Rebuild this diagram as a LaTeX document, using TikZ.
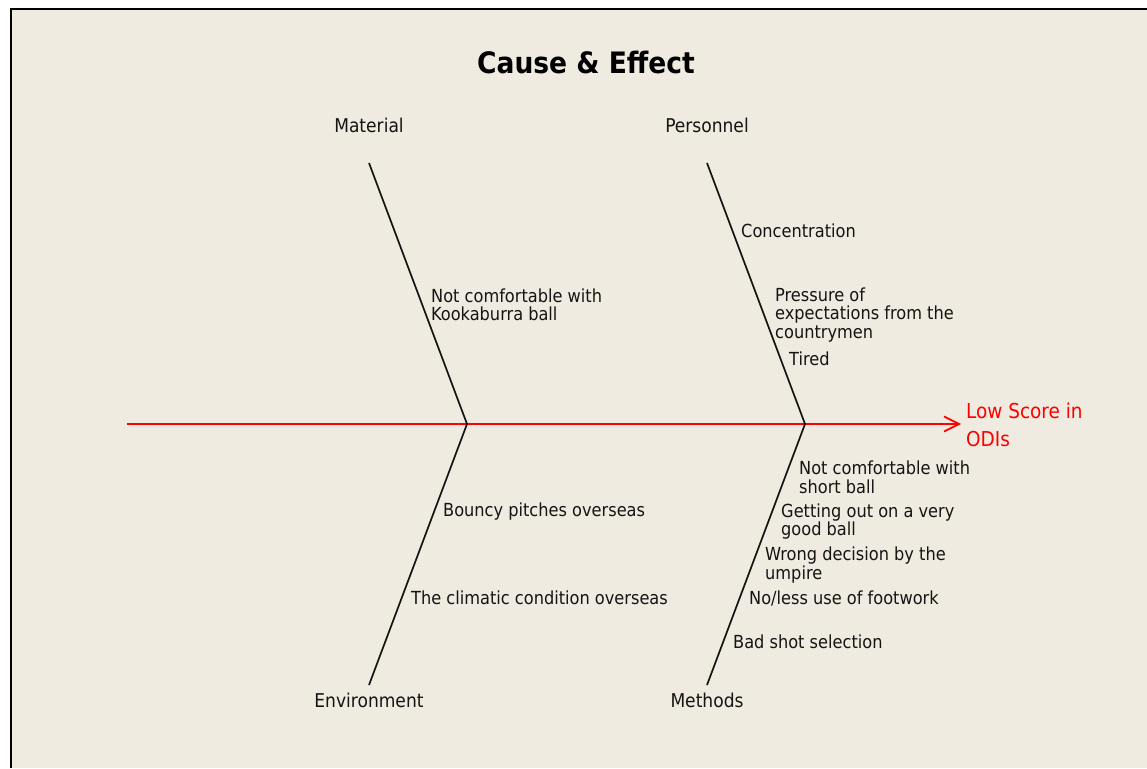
\documentclass[tikz,border=0pt]{standalone}
\usepackage{fontspec}
\setmainfont{DejaVu Sans Condensed}
\usepackage{tikz}
\usetikzlibrary{arrows.meta}
\definecolor{paper}{RGB}{239,235,225}
\definecolor{ink}{RGB}{20,20,20}

\begin{document}
\begin{tikzpicture}[x=1pt,y=-1pt,
	bone/.style={ink,line width=1.7pt},
	cause/.style={anchor=west,align=left,inner sep=0pt,text=ink,font=\fontsize{18}{18.5}\selectfont},
	group/.style={anchor=center,inner sep=0pt,text=ink,font=\fontsize{19}{22}\selectfont}]

	% Draw background and frame
	\useasboundingbox (0,0) rectangle (1147,768);
	\fill[white] (0,0) rectangle (1147,768);
	\fill[paper] (11,9) rectangle (1147,768);
	\draw[line width=2pt] (11,768) -- (11,9) -- (1147,9);

	% Draw title
	\node[inner sep=0pt,font=\fontsize{29.5}{32}\selectfont\bfseries] (title) at (586,63) {Cause \& Effect};

	% Draw spine
	\coordinate (tail) at (127,424);
	\coordinate (jl) at (467,424);
	\coordinate (jr) at (805,424);
	\coordinate (tip) at (961,424);
	\draw[red,line width=1.7pt,-{Straight Barb[length=15pt,width=15pt,line width=1.7pt]}] (tail) -- (tip);
	\node[anchor=west,align=left,inner sep=0pt,text=red,font=\fontsize{20.5}{28}\selectfont] (effect) at (966,425) {Low Score in\\ODIs};

	% Draw bones
	\coordinate (mat) at (369,163);
	\coordinate (per) at (707,163);
	\coordinate (env) at (369,685);
	\coordinate (met) at (707,685);
	\draw[bone] (mat) -- (jl) -- (env);
	\draw[bone] (per) -- (jr) -- (met);
	\node[group] (material) at (369,125) {Material};
	\node[group] (personnel) at (707,125) {Personnel};
	\node[group] (environment) at (369,700) {Environment};
	\node[group] (methods) at (707,700) {Methods};

	% Draw causes
	\node[cause] (c1) at (431,305) {Not comfortable with\\Kookaburra ball};
	\node[cause] (c2) at (741,231) {Concentration};
	\node[cause] (c3) at (775,315) {Pressure of\\expectations from the\\countrymen};
	\node[cause] (c4) at (789,359) {Tired};
	\node[cause] (c5) at (443,512) {Bouncy pitches overseas};
	\node[cause] (c6) at (411,598) {The climatic condition overseas};
	\node[cause] (c7) at (799,477.5) {Not comfortable with\\short ball};
	\node[cause] (c8) at (781,521.5) {Getting out on a very\\good ball};
	\node[cause] (c9) at (765,565) {Wrong decision by the\\umpire};
	\node[cause] (c10) at (749,598) {No/less use of footwork};
	\node[cause] (c11) at (733,642) {Bad shot selection};

\end{tikzpicture}
\end{document}
